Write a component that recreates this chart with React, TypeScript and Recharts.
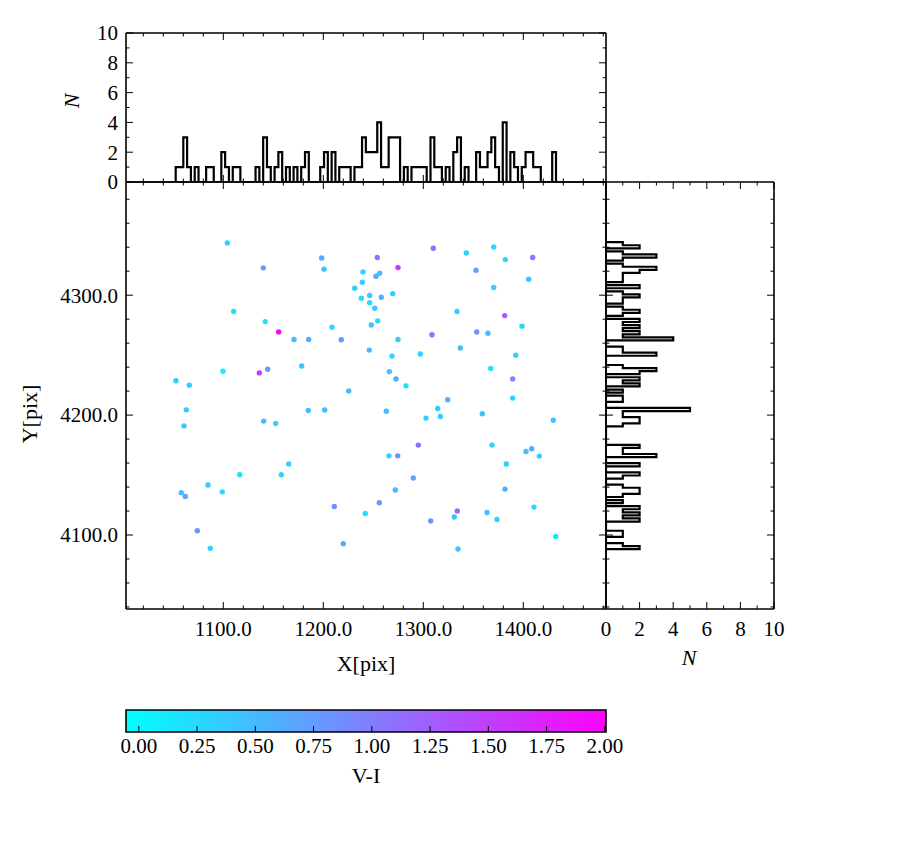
import React from 'react';
import { ScatterChart, Scatter, XAxis, YAxis, ReferenceArea } from 'recharts';

const FONT = "'Liberation Serif', 'DejaVu Serif', serif";
const TXT: React.CSSProperties = { fontFamily: FONT };

const xDomain: [number, number] = [1002.7, 1482.7];
const yDomain: [number, number] = [4038.3, 4394.4];
const countDomain: [number, number] = [0, 10];
const viDomain: [number, number] = [-0.055, 2.005];

const xTicks = [1020, 1040, 1060, 1080, 1100, 1120, 1140, 1160, 1180, 1200, 1220, 1240, 1260, 1280, 1300, 1320, 1340, 1360, 1380, 1400, 1420, 1440, 1460, 1480];
const xMajorTicks = [1100, 1200, 1300, 1400];
const yTicks = [4040, 4060, 4080, 4100, 4120, 4140, 4160, 4180, 4200, 4220, 4240, 4260, 4280, 4300, 4320, 4340, 4360, 4380];
const yMajorTicks = [4100, 4200, 4300];
const countTicks = [0, 1, 2, 3, 4, 5, 6, 7, 8, 9, 10];
const countMajorTicks = [0, 2, 4, 6, 8, 10];
const viTicks = [0, 0.25, 0.5, 0.75, 1.0, 1.25, 1.5, 1.75, 2.0];

// stars: X[pix], Y[pix], V-I
const starX = [1104, 1140, 1198.4, 1200.7, 1239.7, 1239, 1231.4, 1238, 1246.4, 1246.4, 1110.4, 1142, 1155.4, 1170.7, 1185.4, 1208.7, 1218, 1248, 1246, 1099.7, 1136, 1144.4, 1178.4, 1052.7, 1066, 1225.4, 1310, 1343, 1370.4, 1382, 1409.4, 1254, 1274.7, 1252.7, 1256.4, 1352.7, 1405.4, 1370.4, 1258, 1269.4, 1251.4, 1254.4, 1333.7, 1381.4, 1398.7, 1308.7, 1353.4, 1364.7, 1274.7, 1268.7, 1297, 1337, 1392.4, 1266, 1272.7, 1282.7, 1367.4, 1389.4, 1389.4, 1324.4, 1063, 1060.7, 1140.4, 1152.4, 1185, 1201.4, 1116.4, 1084.7, 1099, 1058, 1062, 1074, 1087, 1158, 1165.4, 1211, 1220, 1242, 1263, 1314.4, 1302.7, 1317, 1359, 1430, 1295, 1368.7, 1265.7, 1274.4, 1402.7, 1408.4, 1416, 1383, 1290, 1272, 1381.7, 1256, 1410.7, 1334, 1331, 1363.7, 1373.7, 1307.4, 1432.4, 1334.7];
const starY = [4343.6, 4322.8, 4331, 4321.7, 4319.4, 4310.8, 4305.8, 4297.5, 4299.7, 4293.8, 4286.4, 4278, 4269.4, 4263, 4263, 4273.3, 4262.8, 4275.2, 4254.2, 4236.6, 4235.2, 4238.3, 4241, 4228.6, 4225, 4220.2, 4339.2, 4335.2, 4340.2, 4329.7, 4331.4, 4331.4, 4323, 4315.8, 4318.3, 4320.8, 4313.3, 4306.4, 4298.3, 4301.3, 4289.2, 4278.6, 4286.4, 4283, 4274.2, 4267, 4269.4, 4268.3, 4263, 4249.2, 4251, 4256, 4250, 4236.3, 4230.2, 4224.4, 4238.9, 4230.2, 4214.2, 4212.8, 4204.4, 4191, 4195, 4193, 4203.9, 4204.2, 4150.3, 4141.7, 4136, 4135.2, 4132.2, 4103.6, 4088.9, 4150.3, 4159.2, 4123.8, 4092.7, 4118, 4203.3, 4205.5, 4197.5, 4198.8, 4201.1, 4195.8, 4175, 4175, 4166, 4166, 4169.7, 4172, 4165.8, 4159.2, 4147.5, 4137.5, 4138.3, 4126.9, 4123.3, 4120, 4115, 4118.8, 4113, 4111.7, 4098.8, 4088.3];
const starVI = [0.35, 0.75, 0.65, 0.4, 0.25, 0.4, 0.35, 0.25, 0.4, 0.25, 0.2, 0.2, 2.0, 0.5, 0.6, 0.25, 0.75, 0.45, 0.5, 0.1, 1.5, 0.75, 0.4, 0.35, 0.35, 0.5, 1.15, 0.3, 0.25, 0.3, 1.1, 1.05, 1.6, 0.6, 0.4, 0.7, 0.4, 0.3, 0.6, 0.3, 0.4, 0.3, 0.3, 1.3, 0.3, 1.1, 0.85, 0.5, 0.4, 0.3, 0.25, 0.5, 0.3, 0.45, 0.6, 0.2, 0.15, 0.95, 0.3, 0.6, 0.4, 0.4, 0.5, 0.3, 0.45, 0.45, 0.2, 0.4, 0.25, 0.5, 0.7, 0.8, 0.3, 0.25, 0.3, 0.8, 0.65, 0.2, 0.5, 0.4, 0.3, 0.35, 0.45, 0.4, 1.15, 0.3, 0.3, 0.85, 0.45, 0.6, 0.3, 0.3, 0.7, 0.5, 0.6, 0.75, 0.25, 1.2, 0.45, 0.4, 0.3, 0.8, 0.15, 0.4];

// histogram of X (100 bins)
const histXRange = [1052.4, 1432.7];
const histXCounts = [
  1, 1, 3, 1, 0, 1, 0, 0, 1, 1,
  0, 0, 2, 1, 0, 1, 1, 0, 0, 0,
  0, 1, 0, 3, 1, 0, 1, 2, 0, 1,
  0, 1, 0, 1, 2, 0, 0, 0, 1, 2,
  0, 2, 0, 1, 1, 1, 0, 1, 1, 3,
  2, 2, 2, 4, 1, 1, 3, 3, 3, 0,
  1, 0, 1, 1, 1, 1, 0, 3, 1, 1,
  0, 1, 0, 2, 3, 0, 1, 0, 0, 2,
  1, 1, 2, 3, 1, 0, 4, 0, 2, 1,
  0, 1, 2, 2, 1, 1, 0, 0, 0, 2,
];

// histogram of Y (100 bins, bottom to top)
const histYRange = [4088.2, 4344.2];
const histYCounts = [
  2, 1, 0, 0, 1, 1, 0, 0, 0, 2,
  1, 2, 1, 2, 0, 1, 0, 1, 2, 2,
  1, 0, 0, 1, 2, 0, 0, 2, 0, 0,
  3, 1, 1, 2, 0, 0, 0, 0, 0, 0,
  1, 2, 2, 1, 1, 5, 0, 0, 1, 1,
  0, 1, 0, 2, 1, 2, 0, 2, 3, 1,
  0, 0, 0, 3, 1, 1, 0, 0, 4, 1,
  2, 1, 2, 1, 2, 0, 1, 2, 1, 0,
  1, 1, 2, 1, 0, 2, 0, 1, 1, 1,
  2, 3, 1, 0, 1, 3, 1, 0, 2, 1,
];

const stars = starX.map((x, i) => ({ x, y: starY[i], v: starVI[i] }));

const nbx = histXCounts.length;
const xEdge = (k: number) => histXRange[0] + ((histXRange[1] - histXRange[0]) * k) / nbx;
const topStep: { x: number; y: number }[] = [{ x: xEdge(0), y: 0 }];
histXCounts.forEach((c, k) => {
  topStep.push({ x: xEdge(k), y: c });
  topStep.push({ x: xEdge(k + 1), y: c });
});
topStep.push({ x: xEdge(nbx), y: 0 });

const nby = histYCounts.length;
const yEdge = (k: number) => histYRange[0] + ((histYRange[1] - histYRange[0]) * k) / nby;
const rightStep: { x: number; y: number }[] = [{ x: 0, y: yEdge(0) }];
histYCounts.forEach((c, k) => {
  rightStep.push({ x: c, y: yEdge(k) });
  rightStep.push({ x: c, y: yEdge(k + 1) });
});
rightStep.push({ x: 0, y: yEdge(nby) });

function coolColor(v: number) {
  let t = (v - viDomain[0]) / (viDomain[1] - viDomain[0]);
  t = Math.max(0, Math.min(1, t));
  return `rgb(${Math.round(255 * t)},${Math.round(255 * (1 - t))},255)`;
}

type Side = 'bottom' | 'top' | 'left' | 'right';
function mkTick(
  side: Side,
  majors: number[],
  opts: { fmt?: (v: number) => string; major?: number; minor?: number; gap?: number } = {}
) {
  const majorLen = opts.major ?? 7;
  const minorLen = opts.minor ?? 3.5;
  const gap = opts.gap ?? 8;
  return (props: any) => {
    const { x, y, payload } = props;
    const v = payload.value as number;
    const isMajor = majors.some((m) => Math.abs(m - v) < 1e-6);
    const L = isMajor ? majorLen : minorLen;
    let x2 = x;
    let y2 = y;
    if (side === 'bottom') y2 = y - L;
    else if (side === 'top') y2 = y + L;
    else if (side === 'left') x2 = x + L;
    else x2 = x - L;
    let label: React.ReactNode = null;
    if (isMajor && opts.fmt) {
      if (side === 'bottom') {
        label = (
          <text x={x} y={y + gap} textAnchor="middle" fontFamily={FONT} style={TXT} fontSize={21} fill="#000">
            {opts.fmt(v)}
          </text>
        );
      } else if (side === 'left') {
        label = (
          <text x={x - gap} y={y} dy="0.35em" textAnchor="end" fontFamily={FONT} style={TXT} fontSize={21} fill="#000">
            {opts.fmt(v)}
          </text>
        );
      }
    }
    return (
      <g>
        <line x1={x} y1={y} x2={x2} y2={y2} stroke="#000" strokeWidth={1} />
        {label}
      </g>
    );
  };
}

const AX = { stroke: '#000', strokeWidth: 1.6 };
const noShape = () => <g />;
const stepLine = { stroke: '#000', strokeWidth: 2.2, strokeLinejoin: 'miter' as const, fill: 'none' };

const abs: React.CSSProperties = { position: 'absolute', left: 0, top: 0 };

export default function App() {
  return (
    <div style={{ position: 'absolute', left: 0, top: 0, width: 900, height: 850, background: '#fff', fontFamily: FONT }}>
      {/* top histogram */}
      <div style={abs}>
        <ScatterChart width={900} height={200} margin={{ top: 32, left: 125, right: 293, bottom: 17 }}>
          <XAxis xAxisId="b" dataKey="x" type="number" domain={xDomain} ticks={xTicks} interval={0} height={1}
            tickSize={0} tickMargin={0} tickLine={false} axisLine={AX} allowDataOverflow tick={mkTick('bottom', xMajorTicks)} />
          <XAxis xAxisId="t" orientation="top" dataKey="x" type="number" domain={xDomain} ticks={xTicks} interval={0} height={1}
            tickSize={0} tickMargin={0} tickLine={false} axisLine={AX} allowDataOverflow tick={mkTick('top', xMajorTicks)} />
          <YAxis yAxisId="l" dataKey="y" type="number" domain={countDomain} ticks={countTicks} interval={0} width={1}
            tickSize={0} tickMargin={0} tickLine={false} axisLine={AX} allowDataOverflow
            tick={mkTick('left', countMajorTicks, { fmt: (v) => String(v), gap: 8 })} />
          <YAxis yAxisId="r" orientation="right" dataKey="y" type="number" domain={countDomain} ticks={countTicks} interval={0} width={1}
            tickSize={0} tickMargin={0} tickLine={false} axisLine={AX} allowDataOverflow tick={mkTick('right', countMajorTicks)} />
          <Scatter xAxisId="b" yAxisId="l" data={topStep} line={stepLine} shape={noShape} isAnimationActive={false} />
          <Scatter xAxisId="t" yAxisId="r" data={topStep.slice(0, 2)} shape={noShape} isAnimationActive={false} />
        </ScatterChart>
      </div>

      {/* main scatter */}
      <div style={abs}>
        <ScatterChart width={900} height={700} margin={{ top: 181, left: 125, right: 293, bottom: 90 }}>
          <XAxis xAxisId="b" dataKey="x" type="number" domain={xDomain} ticks={xTicks} interval={0} height={1}
            tickSize={0} tickMargin={0} tickLine={false} axisLine={AX} allowDataOverflow
            tick={mkTick('bottom', xMajorTicks, { fmt: (v) => v.toFixed(1), gap: 27 })} />
          <XAxis xAxisId="t" orientation="top" dataKey="x" type="number" domain={xDomain} ticks={xTicks} interval={0} height={1}
            tickSize={0} tickMargin={0} tickLine={false} axisLine={AX} allowDataOverflow tick={mkTick('top', xMajorTicks)} />
          <YAxis yAxisId="l" dataKey="y" type="number" domain={yDomain} ticks={yTicks} interval={0} width={1}
            tickSize={0} tickMargin={0} tickLine={false} axisLine={AX} allowDataOverflow
            tick={mkTick('left', yMajorTicks, { fmt: (v) => v.toFixed(1), gap: 8 })} />
          <YAxis yAxisId="r" orientation="right" dataKey="y" type="number" domain={yDomain} ticks={yTicks} interval={0} width={1}
            tickSize={0} tickMargin={0} tickLine={false} axisLine={AX} allowDataOverflow tick={mkTick('right', yMajorTicks)} />
          <Scatter xAxisId="b" yAxisId="l" data={stars} isAnimationActive={false}
            shape={(p: any) => <circle cx={p.cx} cy={p.cy} r={2.7} fill={coolColor(p.payload.v)} />} />
          <Scatter xAxisId="t" yAxisId="r" data={stars.slice(0, 1)} shape={noShape} isAnimationActive={false} />
        </ScatterChart>
      </div>

      {/* right histogram */}
      <div style={abs}>
        <ScatterChart width={900} height={700} margin={{ top: 181, left: 605, right: 125, bottom: 90 }}>
          <XAxis xAxisId="b" dataKey="x" type="number" domain={countDomain} ticks={countTicks} interval={0} height={1}
            tickSize={0} tickMargin={0} tickLine={false} axisLine={AX} allowDataOverflow
            tick={mkTick('bottom', countMajorTicks, { fmt: (v) => String(v), gap: 27 })} />
          <XAxis xAxisId="t" orientation="top" dataKey="x" type="number" domain={countDomain} ticks={countTicks} interval={0} height={1}
            tickSize={0} tickMargin={0} tickLine={false} axisLine={AX} allowDataOverflow tick={mkTick('top', countMajorTicks)} />
          <YAxis yAxisId="l" dataKey="y" type="number" domain={yDomain} ticks={yTicks} interval={0} width={1}
            tickSize={0} tickMargin={0} tickLine={false} axisLine={AX} allowDataOverflow tick={mkTick('left', yMajorTicks)} />
          <YAxis yAxisId="r" orientation="right" dataKey="y" type="number" domain={yDomain} ticks={yTicks} interval={0} width={1}
            tickSize={0} tickMargin={0} tickLine={false} axisLine={AX} allowDataOverflow tick={mkTick('right', yMajorTicks)} />
          <Scatter xAxisId="b" yAxisId="l" data={rightStep} line={stepLine} shape={noShape} isAnimationActive={false} />
          <Scatter xAxisId="t" yAxisId="r" data={rightStep.slice(0, 2)} shape={noShape} isAnimationActive={false} />
        </ScatterChart>
      </div>

      {/* colorbar */}
      <div style={abs}>
        <ScatterChart width={900} height={850} margin={{ top: 710, left: 126, right: 294, bottom: 117 }}>
          <defs>
            <linearGradient id="coolGrad" x1="0" y1="0" x2="1" y2="0">
              <stop offset="0%" stopColor="rgb(0,255,255)" />
              <stop offset="100%" stopColor="rgb(255,0,255)" />
            </linearGradient>
          </defs>
          <XAxis dataKey="x" type="number" domain={viDomain} ticks={viTicks} interval={0} height={1}
            tickSize={0} tickMargin={0} tickLine={false} axisLine={false} allowDataOverflow
            tick={mkTick('bottom', viTicks, { fmt: (v) => v.toFixed(2), gap: 21, major: 6 })} />
          <YAxis dataKey="y" type="number" domain={[0, 1]} width={0} hide allowDataOverflow />
          <ReferenceArea x1={viDomain[0]} x2={viDomain[1]} y1={0} y2={1} fill="url(#coolGrad)" fillOpacity={1}
            stroke="#000" strokeWidth={1.6} ifOverflow="visible" />
          <Scatter data={[{ x: viDomain[0], y: 0 }, { x: viDomain[1], y: 1 }]} shape={noShape} isAnimationActive={false} />
        </ScatterChart>
      </div>

      {/* axis titles */}
      <svg width={900} height={850} style={{ ...abs, pointerEvents: 'none' }}>
        <text x={366} y={671} textAnchor="middle" fontFamily={FONT} style={TXT} fontSize={22} fill="#000">X[pix]</text>
        <text x={0} y={0} transform="translate(37,414) rotate(-90)" textAnchor="middle" fontFamily={FONT} style={TXT} fontSize={22} fill="#000">Y[pix]</text>
        <text x={0} y={0} transform="translate(79,101) rotate(-90)" textAnchor="middle" fontFamily={FONT} style={TXT} fontSize={22} fontStyle="italic" fill="#000">N</text>
        <text x={689} y={665} textAnchor="middle" fontFamily={FONT} style={TXT} fontSize={22} fontStyle="italic" fill="#000">N</text>
        <text x={366} y={783} textAnchor="middle" fontFamily={FONT} style={TXT} fontSize={22} fill="#000">V-I</text>
      </svg>
    </div>
  );
}
